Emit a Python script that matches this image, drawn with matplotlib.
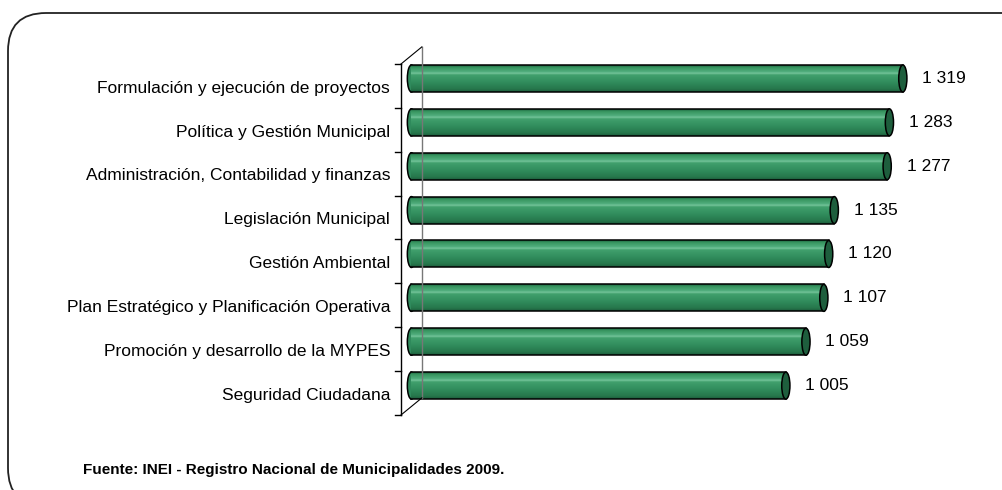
import numpy as np
import matplotlib
matplotlib.use('Agg')
import matplotlib.pyplot as plt
from matplotlib.patches import Ellipse, FancyBboxPatch
from matplotlib.colors import LinearSegmentedColormap

plt.rcParams['font.family'] = ['Liberation Sans', 'DejaVu Sans']

# Data
categorias = ['Formulación y ejecución de proyectos',
              'Política y Gestión Municipal',
              'Administración, Contabilidad y finanzas',
              'Legislación Municipal',
              'Gestión Ambiental',
              'Plan Estratégico y Planificación Operativa',
              'Promoción y desarrollo de la MYPES',
              'Seguridad Ciudadana']
valores = [1319, 1283, 1277, 1135, 1120, 1107, 1059, 1005]
etiquetas = ['1 319', '1 283', '1 277', '1 135', '1 120', '1 107', '1 059', '1 005']
fuente = 'Fuente: INEI - Registro Nacional de Municipalidades 2009.'

W, H = 1003, 490
fig = plt.figure(figsize=(W / 100, H / 100), dpi=100)

# rounded frame around the chart
bg = fig.add_axes([0, 0, 1, 1])
bg.set_xlim(0, W)
bg.set_ylim(H, 0)
bg.axis('off')
bg.add_patch(FancyBboxPatch((8, 13), 1080, 493,
                            boxstyle='round,pad=0,rounding_size=38',
                            fc='white', ec='#222222', lw=1.3))
bg.text(83, 470, fuente, fontsize=11, fontweight='bold', va='center', ha='left')

# main axes (front frame from px 401..990, 64..415)
ax = fig.add_axes([401 / W, 1 - 415 / H, (990 - 401) / W, (415 - 64) / H])
ax.patch.set_alpha(0)
x0, x1 = -28, 1553
n = len(categorias)

grad = LinearSegmentedColormap.from_list('cyl', [
    (0.0, '#1d6340'), (0.08, '#37955f'), (0.25, '#52ae7e'), (0.3, '#78c79d'),
    (0.36, '#41a06d'), (0.65, '#308c5c'), (0.9, '#26764b'), (1.0, '#1c5c3b')])
g = np.linspace(0, 1, 60).reshape(-1, 1)

dy = 0.17      # bars sit a bit up (3D depth)
bh = 0.615
capw = 22
for i, (v, lab) in enumerate(zip(valores, etiquetas)):
    yc = i - dy
    top, bot = yc - bh / 2, yc + bh / 2
    ax.add_patch(Ellipse((0, yc), capw, bh, fc='#2f8a5c', ec='black', lw=1.1, zorder=2))
    ax.imshow(g, cmap=grad, extent=[0, v, bot, top], aspect='auto', zorder=3,
              interpolation='bilinear')
    ax.plot([0, v], [top, top], color='black', lw=1.1, zorder=4)
    ax.plot([0, v], [bot, bot], color='black', lw=1.1, zorder=4)
    ax.add_patch(Ellipse((v, yc), capw, bh, fc='#1e5e3d', ec='black', lw=1.1, zorder=5))
    ax.text(v + 52, yc, lab, fontsize=12.5, va='center', ha='left')
    ax.text(-57, i + 0.05, categorias[i], fontsize=12.5, va='center', ha='right')

ax.set_xlim(x0, x1)
ax.set_ylim(n - 0.5, -0.5)
ax.axis('off')

# 3D frame lines
off_x, off_y = 28, 0.39
ax.plot([x0, x0], [-0.5, n - 0.5], color='black', lw=1, clip_on=False, zorder=6)
ax.plot([x0 + 2 * off_x, x0 + 2 * off_x], [-0.5 - off_y, n - 0.5 - off_y],
        color='#777777', lw=1, clip_on=False, zorder=6)
ax.plot([x0, x0 + 2 * off_x], [-0.5, -0.5 - off_y], color='black', lw=0.8, clip_on=False, zorder=6)
ax.plot([x0, x0 + 2 * off_x], [n - 0.5, n - 0.5 - off_y], color='black', lw=0.8, clip_on=False, zorder=6)
for k in range(n + 1):
    ax.plot([x0 - 16, x0], [k - 0.5, k - 0.5], color='black', lw=1, clip_on=False, zorder=6)

fig.savefig('out.png', dpi=100)
